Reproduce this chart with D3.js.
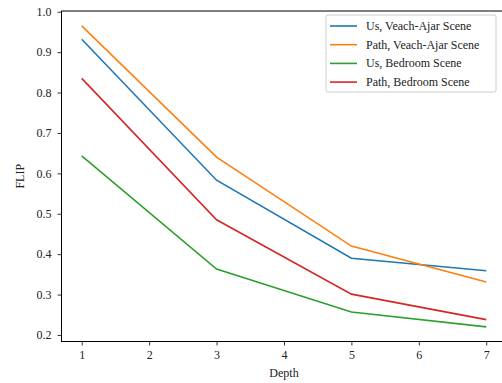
<!DOCTYPE html>
<html>
<head>
<meta charset="utf-8">
<script src="https://cdn.jsdelivr.net/npm/d3@7"></script>
<style>
  html, body { margin: 0; padding: 0; background: #fff; }
  svg { display: block; }
  svg text { font-family: "Liberation Serif", "Times New Roman", serif; }
</style>
</head>
<body>
<div id="app"></div>
<script>
const WIDTH = 502;
const HEIGHT = 383;
const FONT = '"Liberation Serif", "Times New Roman", serif';

// data
const depths = [1, 3, 5, 7];
const usVeach = [0.932, 0.583, 0.390, 0.359];
const pathVeach = [0.965, 0.640, 0.420, 0.331];
const usBedroom = [0.643, 0.363, 0.257, 0.220];
const pathBedroom = [0.835, 0.485, 0.301, 0.238];
const seriesNames = ['Us, Veach-Ajar Scene', 'Path, Veach-Ajar Scene', 'Us, Bedroom Scene', 'Path, Bedroom Scene'];
const seriesColors = ['#1f77b4', '#ff7f0e', '#2ca02c', '#d62728'];
const xTicks = [1, 2, 3, 4, 5, 6, 7];
const yTicks = [0.2, 0.3, 0.4, 0.5, 0.6, 0.7, 0.8, 0.9, 1.0];

const series = [usVeach, pathVeach, usBedroom, pathBedroom].map((vals, i) => ({
  name: seriesNames[i],
  color: seriesColors[i],
  points: depths.map((d, j) => ({ x: d, y: vals[j] }))
}));

const margin = { left: 61.5, top: 11, bottom: 41.5 };

const svg = d3.select('#app')
  .append('svg')
    .attr('width', WIDTH)
    .attr('height', HEIGHT);

const x = d3.scaleLinear()
  .domain([0.7, 7.3])
  .range([margin.left, margin.left + 6.6 * 67.42]);

const y = d3.scaleLinear()
  .domain([0.1838, 1.0018])
  .range([HEIGHT - margin.bottom, margin.top]);

const xAxis = d3.axisBottom(x).tickValues(xTicks).tickFormat(d3.format('d')).tickSize(4).tickPadding(5);
const yAxis = d3.axisLeft(y).tickValues(yTicks).tickFormat(d3.format('.1f')).tickSize(4).tickPadding(6);

const gx = svg.append('g')
  .attr('transform', `translate(0, ${HEIGHT - margin.bottom})`)
  .call(xAxis);
const gy = svg.append('g')
  .attr('transform', `translate(${margin.left}, 0)`)
  .call(yAxis);

[gx, gy].forEach(g => {
  g.attr('font-family', FONT).attr('font-size', 12);
  g.select('.domain').remove();
  g.selectAll('line').attr('stroke', '#000').attr('stroke-width', 0.8);
  g.selectAll('text').attr('fill', '#222');
});

// spines
const x0 = x.range()[0], x1 = x.range()[1];
const y0 = y.range()[0], y1 = y.range()[1];
svg.append('rect')
  .attr('x', x0).attr('y', y1)
  .attr('width', x1 - x0).attr('height', y0 - y1)
  .attr('fill', 'none')
  .attr('stroke', '#000')
  .attr('stroke-width', 1);

const line = d3.line().x(d => x(d.x)).y(d => y(d.y));

svg.selectAll('.series')
  .data(series)
  .enter()
    .append('path')
    .attr('class', 'series')
    .attr('d', d => line(d.points))
    .attr('fill', 'none')
    .attr('stroke', d => d.color)
    .attr('stroke-width', 1.6);

// axis labels
svg.append('text')
  .attr('x', x(4))
  .attr('y', 377)
  .attr('text-anchor', 'middle')
  .attr('font-family', FONT)
  .attr('font-size', 12)
  .attr('fill', '#222')
  .text('Depth');

svg.append('text')
  .attr('transform', `translate(24, ${(y0 + y1) / 2}) rotate(-90)`)
  .attr('text-anchor', 'middle')
  .attr('font-family', FONT)
  .attr('font-size', 12)
  .attr('fill', '#222')
  .text('FLIP');

// legend
const legend = svg.append('g').attr('transform', 'translate(326, 15)');
legend.append('rect')
  .attr('width', 170).attr('height', 77)
  .attr('rx', 2)
  .attr('fill', '#fff')
  .attr('fill-opacity', 0.8)
  .attr('stroke', '#ccc')
  .attr('stroke-width', 1);

const items = legend.selectAll('.item')
  .data(series)
  .enter()
    .append('g')
    .attr('class', 'item')
    .attr('transform', (d, i) => `translate(0, ${11 + i * 18.7})`);

items.append('line')
  .attr('x1', 4).attr('x2', 31)
  .attr('stroke', d => d.color)
  .attr('stroke-width', 1.6);

items.append('text')
  .attr('x', 40)
  .attr('y', 4)
  .attr('font-family', FONT)
  .attr('font-size', 12)
  .attr('fill', '#222')
  .text(d => d.name);
</script>
</body>
</html>
